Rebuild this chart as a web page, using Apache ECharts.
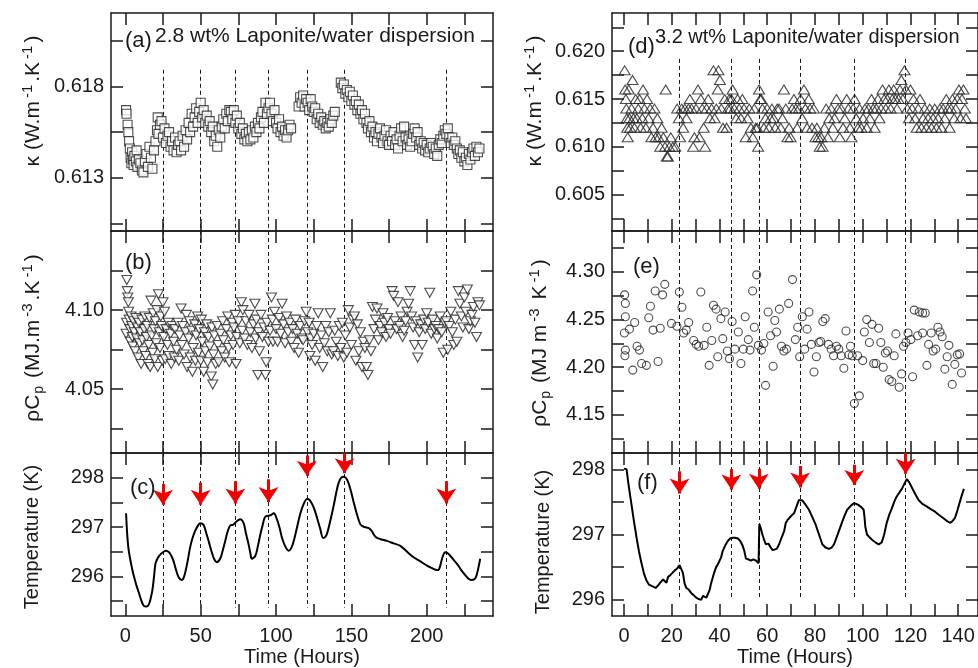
<!DOCTYPE html>
<html>
<head>
<meta charset="utf-8">
<script src="https://cdn.jsdelivr.net/npm/echarts@6/dist/echarts.min.js"></script>
<style>
  html, body { margin: 0; padding: 0; background: #fff; overflow: hidden; }
  #chart { width: 978px; height: 668px; }
</style>
</head>
<body>
<div id="chart"></div>
<script>
// ---- left column: 2.8 wt% dispersion ----
var kappaLeft = [
  [0.5,0.6167],[0.8,0.6165],[1.5,0.6159],[2,0.6155],[2.5,0.6150],[3,0.6146],[3.5,0.6141],[4,0.6138],[4.5,0.6144],[5,0.6140],
  [5.5,0.6137],[6,0.6142],[7,0.6139],[7.5,0.6145],[8,0.6136],[9,0.6140],[10,0.6138],[11,0.6134],[12,0.6133],[13,0.6139],
  [14,0.6143],[15,0.6136],[16,0.6147],[17,0.6141],[18,0.6135],[19,0.6145],[20,0.6150],[21,0.6156],[21.5,0.6163],[22,0.6154],
  [23,0.6159],[24,0.6161],[25,0.6152],[26,0.6157],[27,0.6149],[28,0.6153],[29,0.6155],[30,0.6147],[31,0.6150],[32,0.6145],
  [33,0.6152],[34,0.6144],[35,0.6148],[36,0.6150],[37,0.6145],[38,0.6153],[39,0.6147],[40,0.6156],[41,0.6151],[42,0.6160],
  [43,0.6155],[44,0.6165],[45,0.6158],[46,0.6163],[47,0.6168],[48,0.6160],[49,0.6166],[50,0.6171],[51,0.6163],[52,0.6167],
  [53,0.6160],[54,0.6164],[55,0.6158],[56,0.6161],[57,0.6155],[58,0.6158],[59,0.6150],[60,0.6153],[61,0.6147],[62,0.6156],
  [63,0.6152],[64,0.6158],[65,0.6162],[66,0.6157],[67,0.6165],[68,0.6161],[69,0.6167],[70,0.6166],[71,0.6162],[72,0.6167],
  [73,0.6160],[74,0.6164],[75,0.6157],[76,0.6160],[77,0.6154],[78,0.6157],[79,0.6151],[80,0.6154],[81,0.6150],[82,0.6155],
  [83,0.6151],[84,0.6156],[85,0.6152],[86,0.6158],[87,0.6155],[88,0.6160],[89,0.6157],[90,0.6163],[91,0.6166],[92,0.6160],
  [93,0.6171],[94,0.6165],[95,0.6168],[96,0.6171],[97,0.6165],[98,0.6161],[99,0.6167],[100,0.6160],[101,0.6157],[102,0.6162],
  [103,0.6155],[104,0.6158],[105,0.6153],[106,0.6156],[107,0.6152],[108,0.6156],[109,0.6159],[110,0.6157],[115,0.6169],[116,0.6174],
  [117,0.6171],[118,0.6175],[119,0.6169],[120,0.6173],[121,0.6171],[122,0.6167],[123,0.6173],[124,0.6169],[125,0.6166],[126,0.6168],
  [127,0.6162],[128,0.6165],[129,0.6160],[130,0.6163],[131,0.6159],[132,0.6161],[133,0.6157],[134,0.6160],[135,0.6158],[136,0.6162],
  [137,0.6160],[138,0.6164],[139,0.6166],[143,0.6182],[144,0.6179],[145,0.6181],[146,0.6176],[147,0.6178],[148,0.6174],[149,0.6177],
  [150,0.6172],[151,0.6175],[152,0.6170],[153,0.6172],[154,0.6167],[155,0.6170],[156,0.6165],[157,0.6167],[158,0.6162],[159,0.6165],
  [160,0.6160],[161,0.6157],[162,0.6161],[163,0.6155],[164,0.6158],[165,0.6152],[166,0.6155],[167,0.6150],[168,0.6154],[169,0.6157],
  [170,0.6152],[171,0.6149],[172,0.6153],[173,0.6156],[174,0.6150],[175,0.6148],[176,0.6153],[177,0.6150],[178,0.6155],[179,0.6148],
  [180,0.6151],[181,0.6146],[182,0.6153],[183,0.6157],[184,0.6150],[185,0.6158],[186,0.6152],[187,0.6148],[188,0.6151],[189,0.6147],
  [190,0.6150],[191,0.6154],[192,0.6157],[193,0.6152],[194,0.6155],[195,0.6148],[196,0.6150],[197,0.6146],[198,0.6149],[199,0.6145],
  [200,0.6148],[201,0.6144],[202,0.6146],[203,0.6149],[204,0.6147],[205,0.6143],[206,0.6146],[207,0.6142],[208,0.6148],[209,0.6151],
  [210,0.6149],[211,0.6153],[212,0.6156],[213,0.6154],[214,0.6157],[215,0.6152],[216,0.6149],[217,0.6152],[218,0.6148],[219,0.6150],
  [220,0.6146],[221,0.6143],[222,0.6145],[223,0.6141],[224,0.6144],[225,0.6139],[226,0.6141],[227,0.6137],[228,0.6143],[229,0.6140],
  [230,0.6144],[231,0.6146],[232,0.6142],[233,0.6147],[234,0.6144],[235,0.6146]
];
var cpLeft = [
  [0.5,4.085],[0.8,4.092],[1,4.119],[1.3,4.112],[1.6,4.108],[2,4.105],[2.2,4.099],[2.5,4.094],[3,4.088],[3.3,4.080],
  [3.8,4.096],[4.2,4.090],[4.6,4.083],[5,4.077],[5.5,4.093],[6,4.086],[6.5,4.074],[7,4.095],[7.5,4.082],[8,4.089],
  [8.5,4.070],[9,4.092],[9.5,4.079],[10,4.086],[10.5,4.066],[11,4.094],[11.5,4.081],[12,4.074],[12.5,4.088],[13,4.096],
  [13.5,4.071],[14,4.083],[14.5,4.090],[15,4.066],[15.5,4.078],[16,4.095],[16.5,4.064],[17,4.106],[17.5,4.084],[18,4.073],
  [18.5,4.098],[19,4.088],[19.5,4.069],[20,4.093],[20.5,4.079],[21,4.100],[21.5,4.064],[22,4.110],[22.5,4.086],[23,4.076],
  [23.5,4.096],[24,4.090],[24.5,4.068],[25,4.105],[25.5,4.083],[26,4.099],[26.5,4.069],[27,4.088],[28,4.078],[28.5,4.092],
  [29,4.071],[30,4.085],[30.5,4.066],[31,4.090],[32,4.080],[32.5,4.070],[33,4.088],[34,4.075],[35,4.092],[35.5,4.068],
  [36,4.084],[37,4.101],[37.5,4.078],[38,4.090],[39,4.072],[40,4.086],[40.5,4.097],[41,4.064],[42,4.082],[42.5,4.093],
  [43,4.070],[44,4.087],[44.5,4.061],[45,4.076],[46,4.091],[46.5,4.068],[47,4.084],[48,4.096],[48.5,4.073],[49,4.088],
  [50,4.068],[50.5,4.094],[51,4.080],[52,4.061],[52.5,4.086],[53,4.074],[54,4.091],[54.5,4.067],[55,4.083],[56,4.077],
  [57,4.058],[57.5,4.089],[58,4.053],[58.5,4.072],[59,4.084],[60,4.066],[61,4.090],[61.5,4.078],[62,4.067],[63,4.085],
  [64,4.074],[64.5,4.093],[65,4.081],[66,4.070],[67,4.088],[68,4.096],[68.5,4.076],[69,4.067],[70,4.084],[71,4.092],
  [71.5,4.078],[72,4.089],[73,4.097],[73.5,4.066],[74,4.083],[75,4.093],[76,4.079],[77,4.105],[77.5,4.087],[78,4.100],
  [79,4.082],[80,4.093],[81,4.078],[82,4.097],[83,4.086],[84,4.076],[85,4.091],[86,4.104],[86.5,4.082],[87,4.094],
  [88,4.059],[88.5,4.086],[89,4.074],[90,4.097],[91,4.083],[92,4.089],[93,4.059],[93.5,4.067],[94,4.092],[95,4.080],
  [96,4.087],[97,4.108],[97.5,4.094],[98,4.080],[99,4.099],[100,4.088],[101,4.080],[102,4.095],[103,4.085],[104,4.104],
  [105,4.091],[106,4.079],[107,4.096],[108,4.086],[109,4.092],[110,4.080],[111,4.088],[112,4.076],[113,4.094],[114,4.085],
  [115,4.073],[116,4.090],[117,4.082],[118,4.081],[119,4.093],[120,4.099],[121,4.086],[122,4.092],[122.5,4.071],[123,4.082],
  [124,4.078],[125,4.085],[126,4.068],[127,4.090],[128,4.098],[129,4.076],[130,4.084],[131,4.064],[132,4.079],[133,4.090],
  [134,4.074],[135,4.086],[136,4.098],[137,4.072],[138,4.074],[139,4.087],[140,4.080],[141,4.071],[142,4.090],[143,4.076],
  [144,4.092],[145,4.070],[146,4.084],[147,4.073],[148,4.100],[149,4.089],[150,4.078],[151,4.094],[152,4.096],[153,4.068],
  [154,4.091],[155,4.074],[156,4.086],[157,4.064],[158,4.080],[159,4.076],[160,4.064],[161,4.059],[162,4.081],[163,4.074],
  [164,4.102],[165,4.088],[166,4.094],[167,4.101],[168,4.081],[169,4.090],[170,4.086],[171,4.098],[172,4.092],[173,4.083],
  [174,4.095],[175,4.088],[176,4.085],[177,4.112],[178,4.109],[179,4.093],[180,4.088],[181,4.105],[182,4.090],[183,4.096],
  [184,4.083],[185,4.087],[186,4.093],[187,4.099],[188,4.104],[189,4.112],[190,4.096],[191,4.089],[192,4.078],[193,4.093],
  [194,4.070],[195,4.086],[196,4.091],[197,4.078],[198,4.094],[199,4.088],[200,4.098],[201,4.092],[202,4.111],[203,4.085],
  [204,4.094],[205,4.088],[206,4.090],[207,4.082],[208,4.088],[209,4.096],[210,4.086],[211,4.073],[212,4.092],[213,4.093],
  [214,4.075],[215,4.090],[216,4.099],[217,4.086],[218,4.078],[219,4.094],[220,4.080],[221,4.112],[222,4.104],[223,4.096],
  [224,4.089],[225,4.108],[226,4.099],[227,4.113],[228,4.088],[229,4.093],[230,4.097],[231,4.102],[232,4.092],[233,4.083],
  [234,4.105],[235,4.103]
];
var tempLeft = [
  [0.5,297.28],[2,296.59],[4.7,296.13],[7,295.86],[9.1,295.66],[11,295.48],[12.4,295.40],[14,295.39],[15.7,295.44],[17,295.58],
  [18,295.73],[19,295.98],[20,296.26],[21.3,296.36],[22.6,296.42],[24.5,296.48],[27,296.52],[29,296.49],[30.5,296.42],[31.9,296.32],
  [33.5,296.15],[35.3,295.99],[37.4,295.93],[38.5,295.96],[39.6,296.06],[41.3,296.30],[43,296.59],[44.6,296.78],[46.3,296.92],[48,297.02],
  [49.6,297.08],[51.8,297.05],[54,296.85],[55.7,296.67],[57.4,296.49],[59,296.35],[60.7,296.29],[62.9,296.36],[64.6,296.52],[66.3,296.72],
  [68,296.92],[69.6,297.03],[71.8,297.05],[73.6,297.11],[76.3,297.16],[78.5,297.08],[80,296.88],[81.8,296.65],[83,296.47],[84,296.36],
  [86.3,296.42],[88,296.62],[89.6,296.85],[91.3,297.06],[92.9,297.21],[96.3,297.24],[98.5,297.28],[100.7,297.15],[102.4,296.98],[104,296.78],
  [106.3,296.60],[108.5,296.52],[110.2,296.58],[111.8,296.72],[114,297.00],[116.2,297.28],[118.4,297.47],[120.6,297.57],[122.3,297.55],[123.9,297.47],
  [125.6,297.35],[127.3,297.18],[129.3,296.97],[131.3,296.78],[132.7,296.80],[134,296.88],[136.2,297.15],[138.3,297.44],[140,297.70],[141.6,297.90],
  [143.3,298.00],[145,298.02],[146.5,297.99],[148,297.90],[149.7,297.73],[151.5,297.51],[153.7,297.26],[155.9,297.06],[158,297.01],[160.3,296.99],
  [162,296.97],[163.6,296.92],[165.3,296.83],[167,296.78],[170,296.75],[173.6,296.72],[178,296.67],[182.5,296.62],[187,296.50],[191.3,296.39],
  [196,296.30],[200.2,296.22],[203.5,296.17],[206.8,296.13],[208,296.14],[209,296.22],[210.6,296.40],[212.3,296.49],[214,296.47],[215.6,296.42],
  [218,296.33],[220,296.26],[222.7,296.14],[225.5,296.03],[228,295.95],[230,295.93],[232.2,295.96],[233.4,296.06],[234.4,296.19],[235.5,296.36]
];
var eventsLeft = [25, 50, 73, 95, 120.5, 145.5, 213];
var arrowTailLeft = [297.87, 297.90, 297.93, 297.97, 298.45, 298.50, 297.93];
var arrowHeadLeft = [297.45, 297.45, 297.48, 297.51, 298.04, 298.09, 297.48];

// ---- right column: 3.2 wt% dispersion ----
var kappaRight = [
  [0.3,0.618],[0.5,0.616],[0.8,0.615],[1,0.614],[1.2,0.613],[1.4,0.612],[1.6,0.611],[2,0.616],[2.3,0.613],[2.6,0.612],
  [3.2,0.614],[3.6,0.617],[4,0.613],[4.4,0.612],[4.9,0.615],[5.4,0.613],[6,0.614],[6.5,0.615],[7,0.612],[7.7,0.613],
  [8,0.616],[8.6,0.614],[9.2,0.612],[9.7,0.615],[10.3,0.613],[11,0.614],[11.5,0.611],[12.2,0.612],[12.8,0.614],[13.3,0.611],
  [14,0.613],[14.5,0.611],[15.2,0.610],[15.8,0.612],[16.5,0.611],[17.2,0.610],[17.5,0.616],[18,0.609],[18.4,0.609],[19,0.610],
  [19.6,0.611],[20.5,0.610],[21.5,0.610],
  [22.3,0.614],[23,0.613],[23.5,0.611],[24.2,0.614],[24.8,0.612],[25.5,0.614],[26.2,0.613],[27,0.614],[27.6,0.615],[28.3,0.614],
  [29,0.610],[29.5,0.611],[30.2,0.614],[31,0.616],[31.6,0.611],[32.2,0.615],[32.8,0.614],[33.4,0.612],[34,0.610],[34.6,0.614],
  [35.3,0.615],[36,0.613],[36.7,0.614],[37.5,0.618],[38,0.613],[38.7,0.614],[39.3,0.616],[39.6,0.618],[40.2,0.617],[40.8,0.614],
  [41.5,0.612],[42.2,0.615],[43,0.612],[43.6,0.614],[44.1,0.615],[44.5,0.614],[45,0.615],[45.5,0.616],[46.2,0.614],[47,0.613],
  [47.6,0.615],[48.3,0.614],[49,0.613],[49.6,0.615],[50.3,0.614],[51,0.611],[51.8,0.613],[52.5,0.614],[53.2,0.612],[54,0.611],
  [54.6,0.614],[55.2,0.612],[55.8,0.612],[56.2,0.610],[56.6,0.616],[57.1,0.615],[57.5,0.615],[58,0.614],[58.6,0.612],[59.3,0.613],
  [60,0.614],[60.7,0.612],[61.4,0.613],[62,0.614],[62.7,0.613],[63.4,0.612],[64.2,0.614],[65,0.614],[65.7,0.612],[66.4,0.613],
  [67,0.616],[67.8,0.614],[68.5,0.611],[69.2,0.612],[69.8,0.611],[70.5,0.614],[71.2,0.615],[72,0.614],[72.6,0.612],[73.3,0.614],
  [74,0.615],[74.7,0.613],[75.4,0.616],[76,0.614],[76.7,0.612],[77.4,0.615],[78,0.614],[78.8,0.612],[79.5,0.614],[80.2,0.611],
  [80.8,0.612],[81.4,0.611],[82,0.610],[82.6,0.611],[83.2,0.610],[84,0.612],[84.7,0.614],[85.4,0.611],[86,0.613],[86.8,0.614],
  [87.5,0.612],[88.2,0.613],[89,0.615],[89.7,0.614],[90.4,0.611],[91,0.614],[91.8,0.612],[92.5,0.613],[93.3,0.615],[94,0.614],
  [94.7,0.612],[95.3,0.611],[96,0.614],[96.6,0.615],[97.3,0.613],[98,0.612],[98.7,0.614],[99.4,0.612],[100.2,0.613],[101,0.614],
  [101.7,0.612],[102.4,0.614],[103,0.613],[103.7,0.615],[104.4,0.614],[105,0.612],[105.7,0.614],[106.4,0.615],[107,0.613],[107.7,0.614],
  [108.3,0.616],[109,0.615],[109.7,0.614],[110.3,0.615],[111,0.616],[111.7,0.614],[112.4,0.615],[113,0.616],[113.7,0.615],[114.4,0.614],
  [115,0.615],[115.6,0.616],[116.2,0.617],[116.8,0.615],[117.5,0.618],[118.1,0.616],[118.7,0.614],[119.4,0.613],[120,0.616],[120.7,0.614],
  [121.3,0.615],[122,0.613],[122.6,0.612],[123.3,0.614],[124,0.615],[124.6,0.612],[125.3,0.613],[126,0.614],[126.7,0.612],[127.4,0.613],
  [128.1,0.614],[128.8,0.612],[129.5,0.613],[130.2,0.614],[130.9,0.612],[131.6,0.613],[132.3,0.614],[133,0.612],[133.7,0.614],[134.4,0.613],
  [135,0.615],[135.7,0.614],[136.4,0.612],[137,0.614],[137.6,0.615],[138.3,0.613],[139,0.614],[139.6,0.615],[140.3,0.616],[141,0.613],
  [141.6,0.615],[142.2,0.616],[142.8,0.614],[143.3,0.613]
];
var cpRight = [
  [0.3,4.276],[0.6,4.267],[0.6,4.253],[0.2,4.236],[0.6,4.218],[0.4,4.212],[2.3,4.240],[3.7,4.197],[4.5,4.247],[5.5,4.222],
  [6.5,4.218],[7.4,4.204],[9.4,4.202],[10.4,4.252],[11.1,4.264],[12.2,4.239],[13.1,4.280],[14.3,4.206],[15.2,4.241],[16.2,4.276],
  [17.1,4.287],[19.9,4.246],[22.2,4.243],[23.2,4.279],[24.3,4.263],[25,4.236],[26.1,4.239],[27.1,4.247],[29.2,4.228],[30.3,4.224],
  [31.3,4.222],[32.2,4.279],[33.6,4.223],[34.7,4.242],[35.7,4.202],[36.8,4.228],[37.5,4.265],[38.6,4.261],[39.3,4.211],[40.6,4.251],
  [41.4,4.230],[42.4,4.258],[43.3,4.217],[44.2,4.209],[45.3,4.248],[46.5,4.219],[47.9,4.237],[49,4.204],[50,4.219],[50.8,4.253],
  [52.1,4.229],[52.8,4.218],[53.9,4.280],[54.6,4.242],[55.6,4.297],[56.3,4.223],[57.6,4.218],[58.6,4.225],[59.3,4.181],[60.4,4.258],
  [61.4,4.233],[62.5,4.201],[63.2,4.249],[63.9,4.237],[65.1,4.261],[66,4.222],[67,4.217],[68.1,4.219],[69,4.267],[70.6,4.292],
  [71.8,4.229],[72.8,4.242],[73.6,4.211],[74.7,4.253],[75.7,4.219],[76.7,4.240],[77.5,4.258],[78.5,4.224],[79.6,4.195],[80.6,4.211],
  [81.7,4.226],[82.4,4.227],[83.3,4.248],[84.3,4.251],[85.7,4.224],[86.8,4.219],[87.8,4.212],[89,4.222],[90,4.219],[91,4.212],
  [92.1,4.199],[93,4.238],[94.2,4.213],[94.9,4.222],[95.6,4.212],[96.5,4.162],[97.9,4.212],[98.6,4.170],[100,4.207],[100.7,4.237],
  [101.7,4.250],[102.8,4.226],[103.9,4.245],[104.6,4.204],[105.6,4.204],[106.7,4.241],[107.6,4.226],[108.6,4.200],[109.5,4.215],[110.4,4.217],
  [111.1,4.187],[112.2,4.185],[113.2,4.212],[113.9,4.235],[115.3,4.179],[116.3,4.193],[117.1,4.222],[118.1,4.226],[119,4.236],[120.2,4.229],
  [120.9,4.190],[121.6,4.260],[123,4.233],[123.7,4.258],[125.1,4.257],[126.2,4.257],[125.1,4.236],[126.9,4.202],[127.6,4.224],[128.7,4.236],
  [129.5,4.217],[130.6,4.219],[131.5,4.242],[132.4,4.237],[133.3,4.232],[134.4,4.198],[135.4,4.211],[136.1,4.223],[137.5,4.182],[138.6,4.203],
  [139.6,4.213],[140.6,4.214],[141.4,4.194]
];
var tempRight = [
  [0,298.01],[1.1,298.0],[1.8,297.80],[2.5,297.62],[3.2,297.45],[4.2,297.2],[5.3,296.95],[6.3,296.74],[7.4,296.55],[8.4,296.40],
  [9.4,296.30],[10.5,296.23],[12.2,296.20],[13.3,296.18],[14.3,296.22],[15.4,296.27],[16.4,296.31],[17.1,296.30],[17.8,296.26],[18.5,296.35],
  [19.5,296.38],[21.3,296.45],[22.3,296.48],[23.3,296.53],[24,296.50],[24.7,296.41],[25.4,296.25],[26.1,296.18],[27,296.16],[28.2,296.10],
  [29.2,296.07],[30.3,296.03],[31.3,296.01],[32.4,296.00],[33.1,296.06],[33.8,296.07],[34.5,296.03],[35.2,296.05],[35.9,296.15],[36.5,296.25],
  [37.5,296.38],[38.6,296.50],[39.3,296.54],[40,296.55],[40.7,296.65],[41.4,296.75],[42.4,296.83],[43.5,296.90],[44.5,296.94],[45.6,296.95],
  [46.6,296.95],[47.7,296.94],[48.7,296.90],[49.7,296.83],[50.4,296.75],[51.1,296.63],[52,296.62],[53.2,296.60],[54.2,296.62],[55.3,296.60],
  [56.4,296.56],[56.7,297.16],[57.3,297.10],[58,297.0],[58.7,296.92],[59.4,296.85],[60.5,296.86],[61.5,296.80],[62.3,296.76],[63,296.75],
  [64,296.78],[65,296.85],[66,296.95],[67.1,297.05],[67.8,297.18],[68.5,297.22],[69.2,297.20],[69.9,297.28],[70.6,297.30],[71.3,297.33],
  [72.3,297.43],[73.3,297.53],[74.1,297.55],[74.8,297.52],[76,297.46],[77.5,297.38],[79,297.26],[80.3,297.15],[81.7,297.00],[83.1,296.85],
  [84.4,296.80],[85.8,296.78],[87,296.80],[88,296.85],[89.3,296.98],[90.7,297.12],[92,297.25],[93.5,297.38],[95,297.44],[96.3,297.48],
  [97.3,297.47],[98.3,297.45],[99.4,297.42],[100.4,297.38],[100.8,297.25],[101.1,297.12],[101.8,297.00],[102.8,296.96],[103.9,296.92],[105.3,296.88],
  [106.7,296.85],[107.4,296.86],[108,296.88],[109,297.00],[110,297.17],[111.1,297.30],[112.2,297.40],[113.2,297.50],[114.2,297.58],[115.3,297.64],
  [116.4,297.70],[117.5,297.78],[118.5,297.85],[119.5,297.80],[120.6,297.72],[122,297.62],[123.4,297.53],[125,297.47],[126.8,297.43],[128.5,297.39],
  [130.3,297.35],[132,297.30],[133.8,297.25],[135.2,297.21],[136.5,297.18],[137.5,297.20],[138.6,297.25],[139.6,297.36],[140.7,297.50],[141.5,297.60],
  [142.4,297.70]
];
var eventsRight = [23.3, 45, 56.5, 73.8, 96.5, 118];
var arrowTailRight = [297.97, 298.00, 298.01, 298.05, 298.07, 298.25];
var arrowHeadRight = [297.63, 297.69, 297.70, 297.72, 297.76, 297.93];

// ---- axes: ranges, ticks, labels ----
var xRangeLeft = [-9.5, 244], xTicksLeft = [0,25,50,75,100,125,150,175,200,225], xLabelsLeft = [0,50,100,150,200];
var xRangeRight = [-5, 148.3], xTicksRight = [0,10,20,30,40,50,60,70,80,90,100,110,120,130,140], xLabelsRight = [0,20,40,60,80,100,120,140];
var yRangeA = [0.6101, 0.6220], yTicksA = [0.6105,0.613,0.6155,0.618,0.6205], yLabelsA = [0.613,0.618];
var yRangeB = [4.0097, 4.150], yTicksB = [4.025,4.05,4.075,4.10,4.125], yLabelsB = [4.05,4.10];
var yRangeC = [295.2, 298.5], yTicksC = [295.5,296,296.5,297,297.5,298], yLabelsC = [296,297,298];
var yRangeD = [0.6012, 0.6240], yTicksD = [0.6025,0.605,0.6075,0.61,0.6125,0.615,0.6175,0.62,0.6225], yLabelsD = [0.605,0.610,0.615,0.620];
var yRangeE = [4.110, 4.343], yTicksE = [4.125,4.15,4.175,4.2,4.225,4.25,4.275,4.3,4.325], yLabelsE = [4.15,4.20,4.25,4.30];
var yRangeF = [295.75, 298.25], yTicksF = [296,296.5,297,297.5,298], yLabelsF = [296,297,298];

var ink = '#1a1a1a';
var font = '"Liberation Sans", Arial, Helvetica, sans-serif';

var grids = [
  {left: 111, top: 13, width: 382, height: 218},
  {left: 111, top: 231, width: 382, height: 222},
  {left: 111, top: 453, width: 382, height: 167},
  {left: 612, top: 13, width: 368, height: 218},
  {left: 612, top: 231, width: 368, height: 222},
  {left: 612, top: 453, width: 368, height: 167}
];

var xAxes = [], yAxes = [];
function addX(g, range, ticks, labels, bottom) {
  [['bottom', bottom], ['top', false]].forEach(function (p) {
    xAxes.push({
      gridIndex: g, type: 'value', position: p[0], min: range[0], max: range[1],
      axisLine: {show: true, onZero: false, lineStyle: {color: ink, width: 1.5}},
      axisTick: {show: true, inside: true, length: 12, customValues: ticks, lineStyle: {color: ink, width: 1.5}},
      axisLabel: {show: p[1], customValues: labels, margin: 10, fontSize: 20, color: ink, fontFamily: font},
      splitLine: {show: false},
      name: p[1] ? 'Time (Hours)' : '', nameLocation: 'middle', nameGap: 31,
      nameTextStyle: {fontSize: 20, color: ink, fontFamily: font}
    });
  });
}
function addY(g, range, ticks, labels, digits) {
  [['left', true], ['right', false]].forEach(function (p) {
    yAxes.push({
      gridIndex: g, type: 'value', position: p[0], min: range[0], max: range[1],
      axisLine: {show: true, onZero: false, lineStyle: {color: ink, width: 1.5}},
      axisTick: {show: true, inside: true, length: 12, customValues: ticks, lineStyle: {color: ink, width: 1.5}},
      axisLabel: {show: p[1], customValues: labels, margin: 7, fontSize: 20, color: ink, fontFamily: font,
        formatter: function (v) { return v.toFixed(digits); }},
      splitLine: {show: false}
    });
  });
}
addX(0, xRangeLeft, xTicksLeft, xLabelsLeft, false);
addX(1, xRangeLeft, xTicksLeft, xLabelsLeft, false);
addX(2, xRangeLeft, xTicksLeft, xLabelsLeft, true);
addX(3, xRangeRight, xTicksRight, xLabelsRight, false);
addX(4, xRangeRight, xTicksRight, xLabelsRight, false);
addX(5, xRangeRight, xTicksRight, xLabelsRight, true);
addY(0, yRangeA, yTicksA, yLabelsA, 3);
addY(1, yRangeB, yTicksB, yLabelsB, 2);
addY(2, yRangeC, yTicksC, yLabelsC, 0);
addY(3, yRangeD, yTicksD, yLabelsD, 3);
addY(4, yRangeE, yTicksE, yLabelsE, 2);
addY(5, yRangeF, yTicksF, yLabelsF, 0);

var series = [];
function scatter(g, data, symbol, size, rotate, fill) {
  series.push({
    type: 'scatter', xAxisIndex: 2 * g, yAxisIndex: 2 * g, data: data, z: 3,
    symbol: symbol, symbolSize: size, symbolRotate: rotate,
    itemStyle: {color: fill, borderColor: '#222', borderWidth: 1.1}
  });
}
function curve(g, data, smooth) {
  series.push({
    type: 'line', xAxisIndex: 2 * g, yAxisIndex: 2 * g, data: data, z: 3,
    showSymbol: false, smooth: smooth, lineStyle: {color: '#000', width: 2}
  });
}
function dashed(g, events, yTop, yBot) {
  series.push({
    type: 'lines', coordinateSystem: 'cartesian2d', xAxisIndex: 2 * g, yAxisIndex: 2 * g, z: 1,
    silent: true, symbol: 'none', polyline: false,
    lineStyle: {color: ink, width: 1, type: [4, 3], opacity: 1},
    data: events.map(function (x) { return {coords: [[x, yTop], [x, yBot]]}; })
  });
}
function arrows(g, events, tails, heads) {
  series.push({
    type: 'lines', coordinateSystem: 'cartesian2d', xAxisIndex: 2 * g, yAxisIndex: 2 * g, z: 5,
    silent: true, symbol: ['none', 'arrow'], symbolSize: [8, 15], polyline: false,
    lineStyle: {color: '#f20000', width: 3, opacity: 1},
    data: events.map(function (x, i) { return {coords: [[x, tails[i]], [x, heads[i]]]}; })
  });
}

dashed(0, eventsLeft, 0.6189, yRangeA[0]);
dashed(1, eventsLeft, yRangeB[1], yRangeB[0]);
dashed(2, eventsLeft, yRangeC[1], 295.37);
dashed(3, eventsRight, 0.6192, yRangeD[0]);
dashed(4, eventsRight, yRangeE[1], yRangeE[0]);
dashed(5, eventsRight, yRangeF[1], 296.02);
scatter(0, kappaLeft, 'rect', 9, 0, '#fff');
scatter(1, cpLeft, 'triangle', [10, 9], 180, '#fff');
curve(2, tempLeft, 0.35);
scatter(3, kappaRight, 'triangle', [11, 9], 0, 'rgba(255,255,255,0)');
scatter(4, cpRight, 'circle', 8, 0, 'rgba(255,255,255,0)');
curve(5, tempRight, false);
arrows(2, eventsLeft, arrowTailLeft, arrowHeadLeft);
arrows(5, eventsRight, arrowTailRight, arrowHeadRight);

// ---- text: panel letters, captions, y titles ----
var nrm = {fontSize: 21, lineHeight: 26, fill: ink, fontFamily: font};
var sup = {fontSize: 15, lineHeight: 15, verticalAlign: 'top', padding: [0, 3, 0, 3], fill: ink, fontFamily: font};
var sub = {fontSize: 14, lineHeight: 12, verticalAlign: 'bottom', padding: [0, 2, 0, 1], fill: ink, fontFamily: font};
var plain = {fontSize: 20, lineHeight: 26, fill: ink, fontFamily: font};
var rich = {n: nrm, s: sup, b: sub, t: plain};
function label(x, y, text, size) {
  return {type: 'text', x: x, y: y, z: 10,
    style: {text: text, fontSize: size, fontFamily: font, fill: ink, verticalAlign: 'middle'}};
}
function ytitle(x, y, text) {
  return {type: 'text', x: x, y: y, rotation: Math.PI / 2, z: 10,
    style: {text: text, rich: rich, align: 'center', verticalAlign: 'middle', fill: ink}};
}
var kappaTitle = '{n|κ (W.m}{s|-1}{n|.K}{s|-1}{n|)}';
var graphics = [
  label(125, 41, '(a)', 22),
  label(155, 36, '2.8 wt% Laponite/water dispersion', 21),
  label(125, 263, '(b)', 22),
  label(130, 488, '(c)', 22),
  label(628, 47, '(d)', 22),
  label(655, 37, '3.2 wt% Laponite/water dispersion', 20),
  label(633, 267, '(e)', 22),
  label(637, 483, '(f)', 22),
  ytitle(33, 101, kappaTitle),
  ytitle(33, 338, '{n|ρC}{b|p}{n| (MJ.m}{s|-3}{n|.K}{s|-1}{n|)}'),
  ytitle(32, 537, '{t|Temperature (K)}'),
  ytitle(535, 101, kappaTitle),
  ytitle(540, 343, '{n|ρC}{b|p}{n| (MJ m}{s|-3}{n| K}{s|-1}{n|)}'),
  ytitle(543, 542, '{t|Temperature (K)}')
];

var chart = echarts.init(document.getElementById('chart'), null, {renderer: 'canvas'});
chart.setOption({
  animation: false,
  backgroundColor: '#fff',
  grid: grids,
  xAxis: xAxes,
  yAxis: yAxes,
  series: series,
  graphic: graphics
});
</script>
</body>
</html>
